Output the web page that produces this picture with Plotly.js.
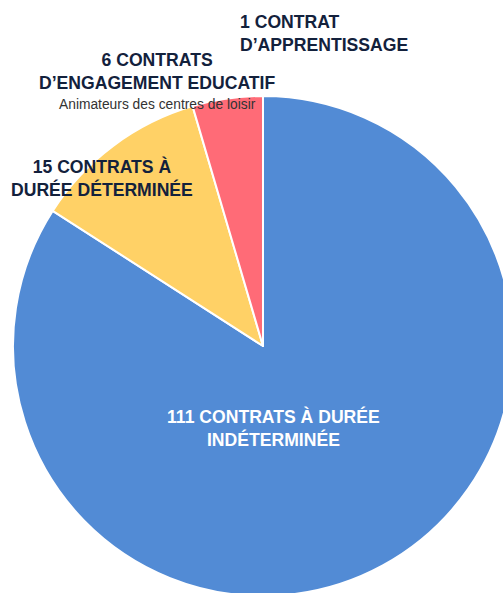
<!DOCTYPE html>
<html>
<head>
<meta charset="utf-8">
<script src="https://cdn.plot.ly/plotly-3.0.1.min.js"></script>
<style>
html,body{margin:0;padding:0;overflow:hidden;background:#fff;width:503px;height:593px;}
#chart{width:540px;height:620px;}
</style>
</head>
<body>
<div id="chart"></div>
<script>
// Data
const categories = ["CONTRATS À DURÉE INDÉTERMINÉE", "CONTRATS À DURÉE DÉTERMINÉE", "CONTRATS D’ENGAGEMENT EDUCATIF", "CONTRAT D’APPRENTISSAGE"];
const counts = [111, 15, 6, 1];
const labelTexts = [
  counts[0] + " CONTRATS À DURÉE<br>INDÉTERMINÉE",
  counts[1] + " CONTRATS À<br>DURÉE DÉTERMINÉE",
  counts[2] + " CONTRATS<br>D’ENGAGEMENT EDUCATIF",
  counts[3] + " CONTRAT<br>D’APPRENTISSAGE"
];
const subNote = "Animateurs des centres de loisir";
const sliceColors = ["#528BD5", "#FFD166", "#FF6B77"];

const W = 540, H = 620;
const px = x => x / W;
const py = y => (H - y) / H;

// only the first three categories have a visible slice in the reference
const pieTrace = {
  type: "pie",
  labels: categories.slice(0, 3),
  values: counts.slice(0, 3),
  sort: false,
  direction: "clockwise",
  rotation: 0,
  textinfo: "none",
  hoverinfo: "label+value",
  marker: {colors: sliceColors, line: {color: "#ffffff", width: 2}},
  domain: {x: [px(13), px(513)], y: [py(596), py(96)]},
  showlegend: false
};

const navy = "#13213C";
const fontFam = "Arial, 'Liberation Sans', sans-serif";
const annotations = [
  {text: "<b>" + labelTexts[0] + "</b>", x: px(273), y: py(428), xanchor: "center", yanchor: "middle", align: "center",
   font: {family: fontFam, size: 17.6, color: "#ffffff"}},
  {text: "<b>" + labelTexts[1] + "</b>", x: px(102), y: py(178), xanchor: "center", yanchor: "middle", align: "center",
   font: {family: fontFam, size: 17.6, color: navy}},
  {text: "<b>" + labelTexts[2] + "</b>", x: px(157), y: py(72), xanchor: "center", yanchor: "middle", align: "center",
   font: {family: fontFam, size: 17.6, color: navy}},
  {text: subNote, x: px(157), y: py(105), xanchor: "center", yanchor: "middle", align: "center",
   font: {family: fontFam, size: 13.8, color: "#333333"}},
  {text: "<b>" + labelTexts[3] + "</b>", x: px(238), y: py(34), xanchor: "left", yanchor: "middle", align: "left",
   font: {family: fontFam, size: 17.6, color: navy}}
].map(a => Object.assign({xref: "paper", yref: "paper", showarrow: false}, a));

Plotly.newPlot("chart", [pieTrace], {
  width: W, height: H,
  margin: {l: 0, r: 0, t: 0, b: 0},
  paper_bgcolor: "#ffffff",
  annotations: annotations
}, {displayModeBar: false, staticPlot: true});
</script>
</body>
</html>
